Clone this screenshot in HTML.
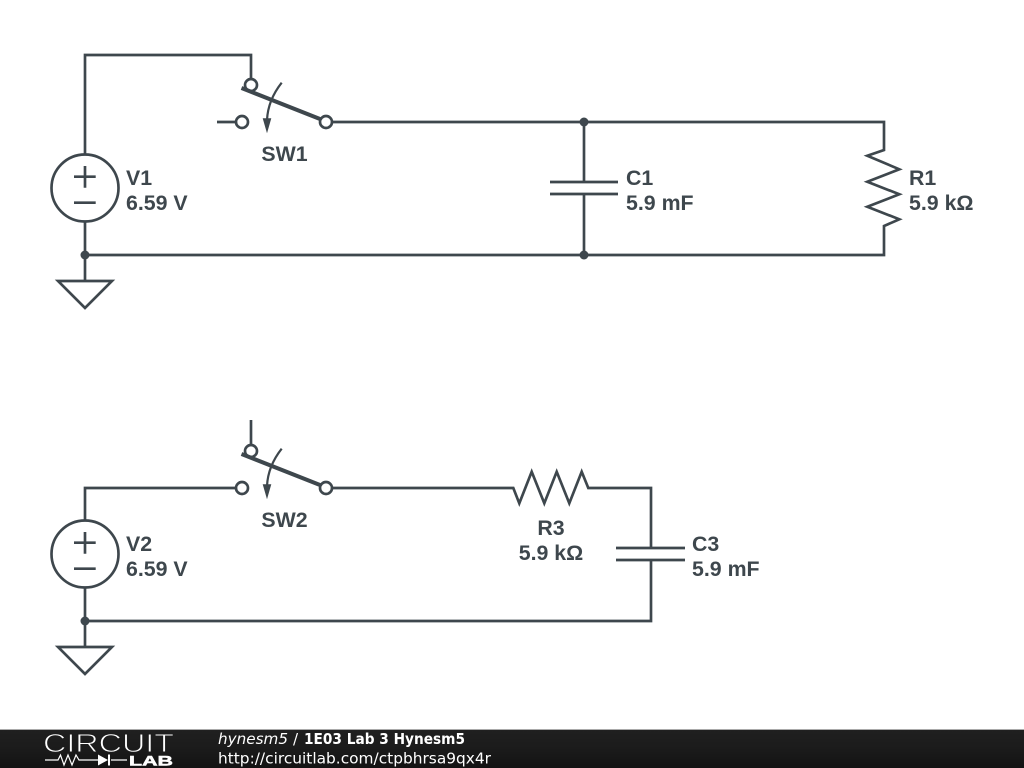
<!DOCTYPE html>
<html>
<head>
<meta charset="utf-8">
<style>
html,body{margin:0;padding:0;background:#fff;width:1024px;height:768px;overflow:hidden}
svg{display:block}
.w{fill:none;stroke:#3e474d;stroke-width:2.67;stroke-linejoin:miter}
.a{fill:none;stroke:#3e474d;stroke-width:4}
.c{fill:none;stroke:#3e474d;stroke-width:2.2}
.t{font-family:"Liberation Sans",sans-serif;font-weight:bold;font-size:21.33px;fill:#3e474d}
.f{font-family:"DejaVu Sans",sans-serif;font-size:15px;fill:#fff}
</style>
</head>
<body>
<svg width="1024" height="768" viewBox="0 0 1024 768" xmlns="http://www.w3.org/2000/svg">
<defs>
<linearGradient id="g" x1="0" y1="0" x2="0" y2="1">
<stop offset="0" stop-color="#202020"/><stop offset="0.5" stop-color="#1b1b1b"/><stop offset="1" stop-color="#131313"/>
</linearGradient>
</defs>
<rect width="1024" height="768" fill="#fff"/>

<!-- Top circuit -->
<path class="w" d="M85 155V55H251V79"/>
<circle class="w" cx="251" cy="85" r="6"/>
<path class="a" d="M241.500 88L320 119"/>
<circle class="w" cx="326" cy="122" r="6"/>
<path class="w" d="M217 122H236"/>
<circle class="w" cx="242" cy="122" r="6"/>
<path class="c" d="M281.700 82.700Q268 100 267 120"/>
<path d="M262.700 118.300H271.300L267 133.300Z" fill="#3e474d"/>
<path class="w" d="M332 122H884V150L867.300 155.700L899.300 169.300L867.300 181.700L899.300 194.300L867.300 206.700L899.300 219.300L884 226V255H85"/>
<path class="w" d="M584 122V182M550 182H618M550 194H618M584 194V255"/>
<circle cx="584" cy="122" r="4.500" fill="#3e474d"/>
<circle cx="584" cy="255" r="4.500" fill="#3e474d"/>
<circle class="w" cx="85" cy="188" r="33.500"/>
<path class="w" d="M74 176.700H95.700M85 166V187.700M74 202.700H95.700"/>
<path class="w" d="M85 221.500V281M58 281H112L85 308Z"/>
<circle cx="85" cy="255" r="4.500" fill="#3e474d"/>

<text class="t" x="126" y="185">V1</text>
<text class="t" x="126" y="210">6.59 V</text>
<text class="t" x="284.500" y="161" text-anchor="middle">SW1</text>
<text class="t" x="626" y="185">C1</text>
<text class="t" x="626" y="210">5.9 mF</text>
<text class="t" x="909" y="185">R1</text>
<text class="t" x="909" y="210">5.9 kΩ</text>

<!-- Bottom circuit -->
<path class="w" d="M251 420V445"/>
<circle class="w" cx="251" cy="451" r="6"/>
<path class="a" d="M241.500 454L320 485"/>
<circle class="w" cx="326" cy="488" r="6"/>
<path class="w" d="M85 521V488H236"/>
<circle class="w" cx="242" cy="488" r="6"/>
<path class="c" d="M281.700 448.700Q268 466 267 486"/>
<path d="M262.700 484.300H271.300L267 499.300Z" fill="#3e474d"/>
<path class="w" d="M332 488H513.300L519.300 503.300L531.700 471.700L544.300 503.300L556.700 471.700L569.300 503.300L581.700 471.700L588.300 488H651V548M616 548H685M616 560H685M651 560V621H85"/>
<circle class="w" cx="85" cy="554" r="33.500"/>
<path class="w" d="M74 542.700H95.700M85 532V553.700M74 568.700H95.700"/>
<path class="w" d="M85 587.500V647M58 647H112L85 674Z"/>
<circle cx="85" cy="621" r="4.500" fill="#3e474d"/>

<text class="t" x="126" y="551">V2</text>
<text class="t" x="126" y="576">6.59 V</text>
<text class="t" x="284.500" y="527" text-anchor="middle">SW2</text>
<text class="t" x="551" y="535" text-anchor="middle">R3</text>
<text class="t" x="551" y="560" text-anchor="middle">5.9 kΩ</text>
<text class="t" x="692" y="551">C3</text>
<text class="t" x="692" y="576">5.9 mF</text>

<!-- Footer -->
<rect x="0" y="729" width="1024" height="39" fill="url(#g)"/>
<rect x="0" y="729" width="1024" height="1" fill="#aaa"/>
<text x="43" y="752" font-family="'Liberation Sans',sans-serif" font-size="26" textLength="131" lengthAdjust="spacingAndGlyphs" fill="#fff" stroke="#1d1d1d" stroke-width="0.9">CIRCUIT</text>
<path d="M45 760H58L60.500 755L64 765L68 755L72 765L76 755L79 760H99M111 760H127" fill="none" stroke="#fff" stroke-width="1.200"/>
<path d="M98 754.500V765.500L108 760Z" fill="#fff"/>
<path d="M109 754.500V765.500" stroke="#fff" stroke-width="2"/>
<text x="129" y="765.500" font-family="'Liberation Sans',sans-serif" font-weight="bold" font-size="13.500" textLength="44" lengthAdjust="spacingAndGlyphs" fill="#fff" stroke="#fff" stroke-width="0.5">LAB</text>
<text class="f" x="218" y="744" font-style="italic" textLength="70" lengthAdjust="spacingAndGlyphs">hynesm5</text>
<text class="f" x="293" y="744">/</text>
<text class="f" x="304" y="744" font-weight="bold" textLength="161" lengthAdjust="spacingAndGlyphs">1E03 Lab 3 Hynesm5</text>
<text class="f" x="218" y="763.500" textLength="273" lengthAdjust="spacingAndGlyphs">http://circuitlab.com/ctpbhrsa9qx4r</text>
</svg>
</body>
</html>
